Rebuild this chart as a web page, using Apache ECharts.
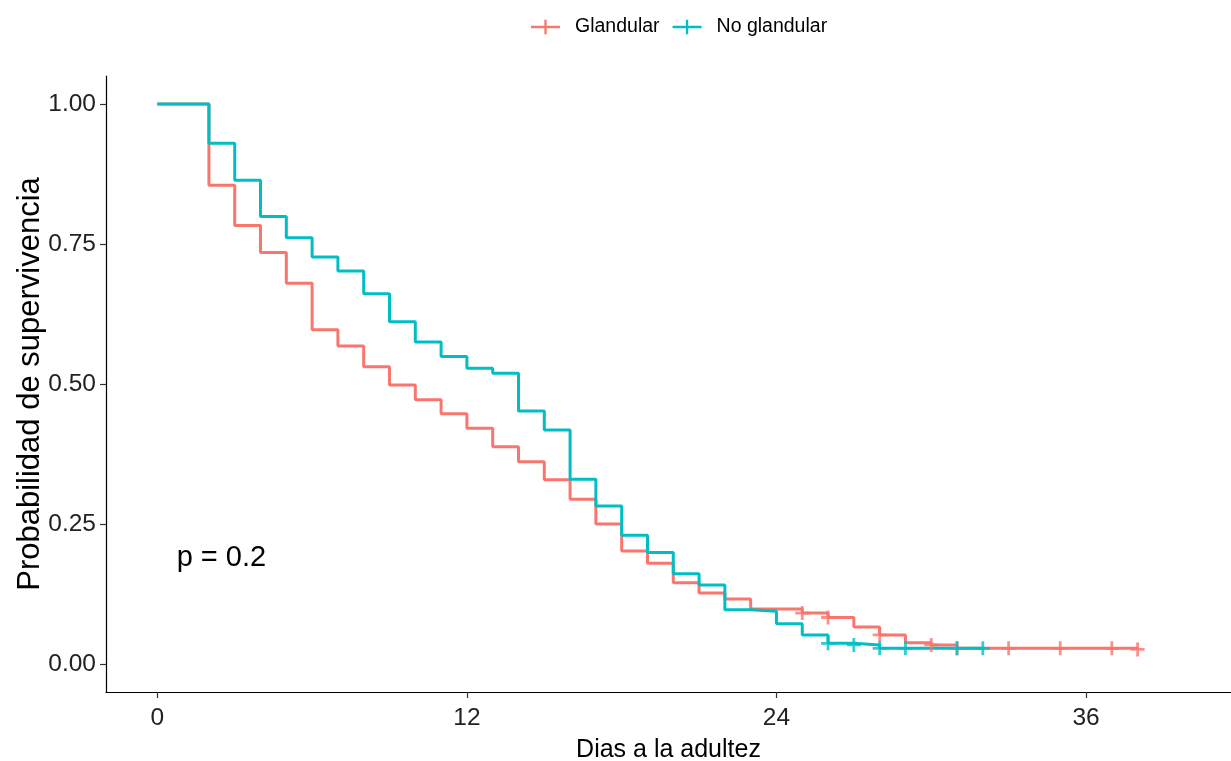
<!DOCTYPE html>
<html><head><meta charset="utf-8">
<script src="https://cdn.jsdelivr.net/npm/echarts@6/dist/echarts.min.js"></script>
<style>html,body{margin:0;padding:0;background:#fff}#c{width:1231px;height:761px}</style>
</head><body><div id="c"></div>
<script>
// ---- data ----
const groupNames = ['Glandular', 'No glandular'];
const glandDays = [0, 2, 3, 4, 5, 6, 7, 8, 9, 10, 11, 12, 13, 14, 15, 16, 17, 18, 19, 20, 21, 22, 23, 25, 26, 27, 28, 29, 30, 31, 38];
const glandSurv = [1, 0.855, 0.783, 0.735, 0.680, 0.597, 0.568, 0.531, 0.498, 0.472, 0.447, 0.421, 0.388, 0.361, 0.329, 0.294, 0.250, 0.202, 0.180, 0.145, 0.127, 0.116, 0.098, 0.091, 0.083, 0.066, 0.052, 0.038, 0.034, 0.028, 0.026];
const glandCensor = [25, 26, 28, 30, 31, 33, 35, 37, 38];
const noGlandDays = [0, 2, 3, 4, 5, 6, 7, 8, 9, 10, 11, 12, 13, 14, 15, 16, 17, 18, 19, 20, 21, 22, 23, 24, 25, 26, 27, 28, 32];
const noGlandSurv = [1, 0.930, 0.864, 0.799, 0.761, 0.727, 0.702, 0.661, 0.611, 0.575, 0.549, 0.528, 0.519, 0.452, 0.418, 0.330, 0.282, 0.230, 0.199, 0.161, 0.141, 0.097, 0.094, 0.072, 0.052, 0.037, 0.034, 0.028, 0.028];
const noGlandCensor = [26, 27, 28, 29, 31, 32];
const xTickValues = [0, 12, 24, 36];
const yTickValues = [0, 0.25, 0.5, 0.75, 1];
const pValueText = 'p = 0.2';
const pValuePos = [0.75, 0.19];

// ---- helpers ----
function pairs(days, surv) { return days.map((d, i) => [d, surv[i]]); }
function survAt(days, surv, t) { let v = surv[0]; for (let i = 0; i < days.length; i++) { if (days[i] <= t) v = surv[i]; } return v; }
function censorPts(days, surv, cens) { return cens.map(t => [t, survAt(days, surv, t)]); }

const RED = '#F8766D', TEAL = '#00BFC4';
const FONT = '"Liberation Sans", Arial, sans-serif';
const PLUS = 'path://M4,0H6V4H10V6H6V10H4V6H0V4H4Z';
const LEG_ICON = 'path://M0,6.3H30V8.7H0Z M13.8,0H16.2V15H13.8Z';

const chart = echarts.init(document.getElementById('c'), null, { renderer: 'canvas' });
const option = {
  animation: false,
  backgroundColor: '#fff',
  textStyle: { fontFamily: FONT },
  grid: { left: 106, right: 0, top: 76, bottom: 69, containLabel: false, outerBoundsMode: 'none' },
  legend: {
    left: 526, top: 12,
    itemWidth: 29, itemHeight: 15, itemGap: 13,
    textStyle: { fontSize: 19.5, color: '#000', fontFamily: FONT, padding: [0, 0, 0, 10] },
    data: [
      { name: groupNames[0], icon: LEG_ICON, itemStyle: { color: RED } },
      { name: groupNames[1], icon: LEG_ICON, itemStyle: { color: TEAL } }
    ]
  },
  xAxis: {
    type: 'value', min: -1.99, max: 41.62,
    name: 'Dias a la adultez', nameLocation: 'middle', nameGap: 46, nameMoveOverlap: false,
    nameTextStyle: { fontSize: 25, color: '#000', fontFamily: FONT },
    axisLine: { show: true, onZero: false, lineStyle: { color: '#000', width: 1.2 } },
    axisTick: { show: true, length: 6, customValues: xTickValues, lineStyle: { color: '#333', width: 1.2 } },
    axisLabel: { show: true, customValues: xTickValues, fontSize: 24.5, color: '#222', margin: 14, fontFamily: FONT },
    splitLine: { show: false }
  },
  yAxis: {
    type: 'value', min: -0.05, max: 1.05,
    name: 'Probabilidad de supervivencia', nameLocation: 'middle', nameGap: 60, nameRotate: 90, nameMoveOverlap: false,
    nameTextStyle: { fontSize: 31, color: '#000', fontFamily: FONT },
    axisLine: { show: true, onZero: false, lineStyle: { color: '#000', width: 1.2 } },
    axisTick: { show: true, length: 6, customValues: yTickValues, lineStyle: { color: '#333', width: 1.2 } },
    axisLabel: { show: true, customValues: yTickValues, fontSize: 24.5, color: '#222', margin: 10, fontFamily: FONT,
      formatter: v => v.toFixed(2) },
    splitLine: { show: false }
  },
  series: [
    { name: groupNames[0], type: 'line', step: 'end', showSymbol: false, symbol: 'none',
      data: pairs(glandDays, glandSurv), lineStyle: { color: RED, width: 3 }, itemStyle: { color: RED }, z: 2 },
    { name: groupNames[1], type: 'line', step: 'end', showSymbol: false, symbol: 'none',
      data: pairs(noGlandDays, noGlandSurv), lineStyle: { color: TEAL, width: 3 }, itemStyle: { color: TEAL }, z: 3 },
    { name: groupNames[0], type: 'scatter', symbol: PLUS, symbolSize: 14,
      data: censorPts(glandDays, glandSurv, glandCensor), itemStyle: { color: RED }, z: 4 },
    { name: groupNames[1], type: 'scatter', symbol: PLUS, symbolSize: 14,
      data: censorPts(noGlandDays, noGlandSurv, noGlandCensor), itemStyle: { color: TEAL }, z: 5 }
  ]
};
chart.setOption(option);
const pp = chart.convertToPixel({ gridIndex: 0 }, pValuePos);
chart.setOption({
  graphic: [{ type: 'text', x: pp[0], y: pp[1], z: 10,
    style: { text: pValueText, font: '29px ' + FONT, fill: '#000', textAlign: 'left', textVerticalAlign: 'middle' } }]
});
</script>
</body></html>
